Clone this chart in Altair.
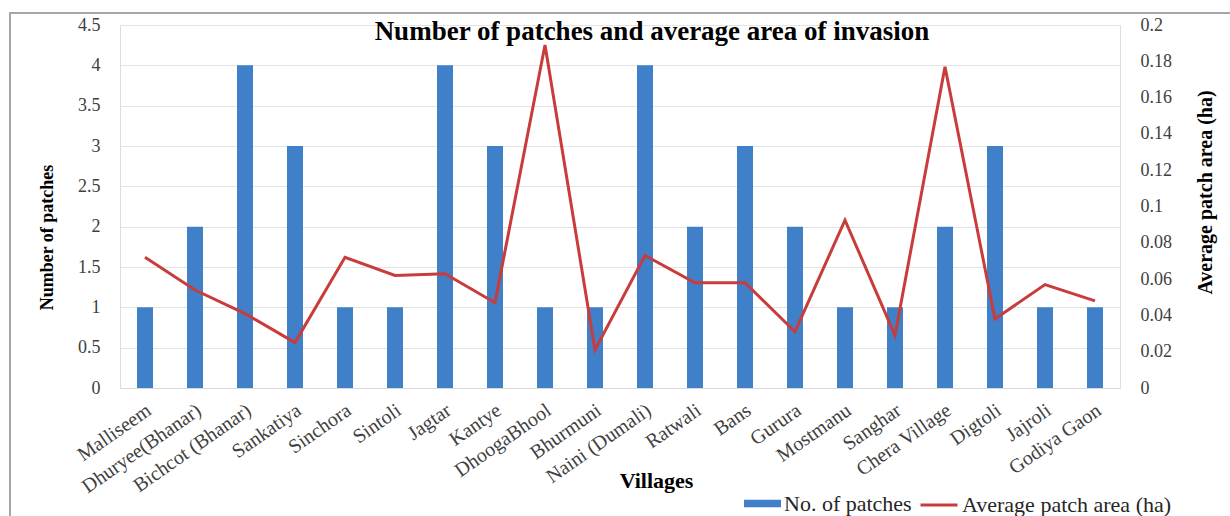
import altair as alt
import pandas as pd

villages = [
    "Malliseem", "Dhuryee(Bhanar)", "Bichcot (Bhanar)", "Sankatiya", "Sinchora",
    "Sintoli", "Jagtar", "Kantye", "DhoogaBhool", "Bhurmuni", "Naini (Dumali)",
    "Ratwali", "Bans", "Gurura", "Mostmanu", "Sanghar", "Chera Village",
    "Digtoli", "Jajroli", "Godiya Gaon",
]
patches = [1, 2, 4, 3, 1, 1, 4, 3, 1, 1, 4, 2, 3, 2, 1, 1, 2, 3, 1, 1]
avg_area = [0.072, 0.054, 0.041, 0.025, 0.072, 0.062, 0.063, 0.047, 0.189, 0.021,
            0.073, 0.058, 0.058, 0.031, 0.0925, 0.029, 0.177, 0.038, 0.057, 0.048]

df = pd.DataFrame({"village": villages, "patches": patches, "area": avg_area})
df["bar_series"] = "No. of patches"
df["line_series"] = "Average patch area (ha)"

SERIF = "Liberation Serif"
BLUE = "#4080C8"
RED = "#C83C3C"

x_enc = alt.X(
    "village:N",
    sort=villages,
    scale=alt.Scale(paddingInner=0.68, paddingOuter=0.34),
    axis=alt.Axis(
        title="Villages",
        titleFont=SERIF, titleFontSize=22, titleFontWeight="bold", titleColor="#000000",
        titleX=536, titleY=92, titleBaseline="middle",
        labelFont=SERIF, labelFontSize=20, labelColor="#404040",
        labelAngle=325, labelAlign="right", labelBaseline="middle",
        labelPadding=20, labelOffset=4,
        ticks=False, domain=True, domainColor="#D9D9D9",
        labelOverlap=False,
    ),
)

bars = alt.Chart(df).mark_bar().encode(
    x=x_enc,
    y=alt.Y(
        "patches:Q",
        scale=alt.Scale(domain=[0, 4.5], nice=False),
        axis=alt.Axis(
            title="Number of patches",
            values=[0, 0.5, 1, 1.5, 2, 2.5, 3, 3.5, 4, 4.5], format="~g",
            titleFont=SERIF, titleFontSize=18, titleFontWeight="bold", titleColor="#000000",
            titleAngle=270, titleX=-73, titleY=212, titleAlign="center", titleBaseline="middle",
            labelFont=SERIF, labelFontSize=18, labelColor="#404040", labelPadding=20,
            ticks=False, domain=False, grid=True, gridColor="#E3E3E3",
        ),
    ),
    color=alt.Color(
        "bar_series:N",
        scale=alt.Scale(domain=["No. of patches"], range=[BLUE]),
        legend=alt.Legend(
            title=None, orient="none", legendX=624, legendY=460,
            symbolType="M-1,-0.2H1V0.2H-1Z", symbolSize=1369, symbolStrokeWidth=0,
            labelFont=SERIF, labelFontSize=22, labelColor="#262626", labelOffset=3,
            labelLimit=400, padding=0,
        ),
    ),
)

line = alt.Chart(df).mark_line(strokeWidth=3).encode(
    x=alt.X("village:N", sort=villages),
    y=alt.Y(
        "area:Q",
        scale=alt.Scale(domain=[0, 0.2], nice=False),
        axis=alt.Axis(
            title="Average patch area (ha)", orient="right",
            values=[0, 0.02, 0.04, 0.06, 0.08, 0.1, 0.12, 0.14, 0.16, 0.18, 0.2], format="~g",
            titleFont=SERIF, titleFontSize=20, titleFontWeight="bold", titleColor="#000000",
            titleAngle=270, titleX=85, titleY=167, titleAlign="center", titleBaseline="middle",
            labelFont=SERIF, labelFontSize=18, labelColor="#404040", labelPadding=20,
            ticks=False, domain=False, grid=False,
        ),
    ),
    stroke=alt.Stroke(
        "line_series:N",
        scale=alt.Scale(domain=["Average patch area (ha)"], range=[RED]),
        legend=alt.Legend(
            title=None, orient="none", legendX=799, legendY=460,
            symbolType="stroke", symbolSize=1369, symbolStrokeWidth=3,
            labelFont=SERIF, labelFontSize=22, labelColor="#262626", labelOffset=3,
            labelLimit=400, padding=0,
        ),
    ),
)

# outer frame around the whole figure
frame = alt.Chart(alt.Data(values=[{}])).mark_rect(
    fillOpacity=0, stroke="#A6A6A6", strokeWidth=2
).encode(
    x=alt.value(-110), x2=alt.value(1130), y=alt.value(-12), y2=alt.value(520)
)

chart = (
    alt.layer(frame, bars, line)
    .resolve_scale(y="independent", color="independent", stroke="independent")
    .properties(
        width=1000,
        height=363,
        title=alt.TitleParams(
            "Number of patches and average area of invasion",
            font=SERIF, fontSize=27, fontWeight="bold", color="#000000",
            anchor="middle", offset=-34, dx=32,
        ),
        autosize=alt.AutoSizeParams(type="none"),
        padding={"left": 120, "top": 25, "right": 110, "bottom": 128},
    )
    .configure_view(stroke=None)
    .configure(background="#FFFFFF")
)

chart.save("out.html", embed_options={"renderer": "svg", "actions": False})
